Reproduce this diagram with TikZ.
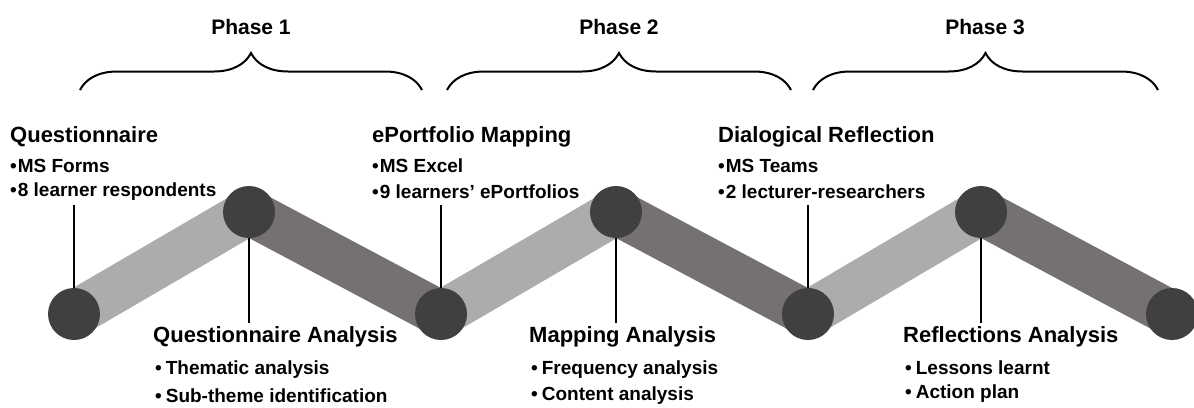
\documentclass[tikz,border=0pt]{standalone}
\usepackage{fontspec}
\setmainfont{Liberation Sans}
\usepackage{tikz}
\usetikzlibrary{decorations.pathreplacing}
\definecolor{bandlight}{HTML}{AEABAB}
\definecolor{banddark}{HTML}{767171}
\definecolor{dotgrey}{HTML}{404040}
\newcommand{\tightdot}{•\hspace{1pt}}
\newcommand{\loosedot}{•\hspace{4pt}}

\begin{document}
\begin{tikzpicture}[x=1pt,y=-1pt]
\tikzstyle{every node}+=[inner sep=0pt]
\tikzstyle{dot}=[circle,fill=dotgrey,minimum size=52pt]
\tikzstyle{lightband}=[line width=46pt,bandlight]
\tikzstyle{darkband}=[line width=46pt,banddark]
\tikzstyle{stalk}=[line width=2pt,black]
\tikzstyle{bracket}=[line width=2pt,decorate,decoration={brace,amplitude=37pt}]
\tikzstyle{head}=[anchor=west,font=\fontsize{22}{26}\selectfont\bfseries]
\tikzstyle{item}=[anchor=west,font=\fontsize{19}{22}\selectfont\bfseries]
\tikzstyle{phase}=[font=\fontsize{21}{24}\selectfont\bfseries]
\useasboundingbox (0,0) rectangle (1194,407);
% zigzag
\coordinate (p1) at (74,314);
\coordinate (p2) at (249,212);
\coordinate (p3) at (441,314);
\coordinate (p4) at (616,212);
\coordinate (p5) at (808,314);
\coordinate (p6) at (981,212);
\coordinate (p7) at (1172,314);
\draw [darkband] (p2) -- (p3);
\draw [darkband] (p4) -- (p5);
\draw [darkband] (p6) -- (p7);
\draw [lightband] (p1) -- (p2);
\draw [lightband] (p3) -- (p4);
\draw [lightband] (p5) -- (p6);
% stalks
\draw [stalk] (p1) -- (p1 |- 0,205);
\draw [stalk] (p3) -- (p3 |- 0,205);
\draw [stalk] (p5) -- (p5 |- 0,205);
\draw [stalk] (p2) -- (p2 |- 0,323);
\draw [stalk] (p4) -- (p4 |- 0,323);
\draw [stalk] (p6) -- (p6 |- 0,323);
\node [dot] (c1) at (p1) {};
\node [dot] (c2) at (p2) {};
\node [dot] (c3) at (p3) {};
\node [dot] (c4) at (p4) {};
\node [dot] (c5) at (p5) {};
\node [dot] (c6) at (p6) {};
\node [dot] (c7) at (p7) {};
% phases
\draw [bracket] (80,90) -- (422,90);
\draw [bracket] (447,90) -- (791,90);
\draw [bracket] (813,90) -- (1158,90);
\node [phase] (ph1) at (251,27) {Phase 1};
\node [phase] (ph2) at (619,27) {Phase 2};
\node [phase] (ph3) at (985,27) {Phase 3};
% upper texts
\node [head] (quest) at (10,137) {Questionnaire};
\node [item] (questa) at (10,166) {\tightdot MS Forms};
\node [item] (questb) at (10,192) {\tightdot 8 learner respondents};
\node [head] (port) at (372,137) {ePortfolio Mapping};
\node [item] (porta) at (372,166) {\tightdot MS Excel};
\node [item] (portb) at (372,192) {\tightdot 9 learners’ ePortfolios};
\node [head] (dial) at (718,137) {Dialogical Reflection};
\node [item] (diala) at (718,166) {\tightdot MS Teams};
\node [item] (dialb) at (718,192) {\tightdot 2 lecturer-researchers};
% lower texts
\node [head] (qana) at (153,337) {Questionnaire Analysis};
\node [item] (qanaa) at (155,370) {\loosedot Thematic analysis};
\node [item] (qanab) at (155,396) {\loosedot Sub-theme identification};
\node [head] (mana) at (529,337) {Mapping Analysis};
\node [item] (manaa) at (531,370) {\loosedot Frequency analysis};
\node [item] (manab) at (531,396) {\loosedot Content analysis};
\node [head] (rana) at (903,337) {Reflections Analysis};
\node [item] (ranaa) at (905,368) {\loosedot Lessons learnt};
\node [item] (ranab) at (905,394) {\loosedot Action plan};
\end{tikzpicture}
\end{document}
